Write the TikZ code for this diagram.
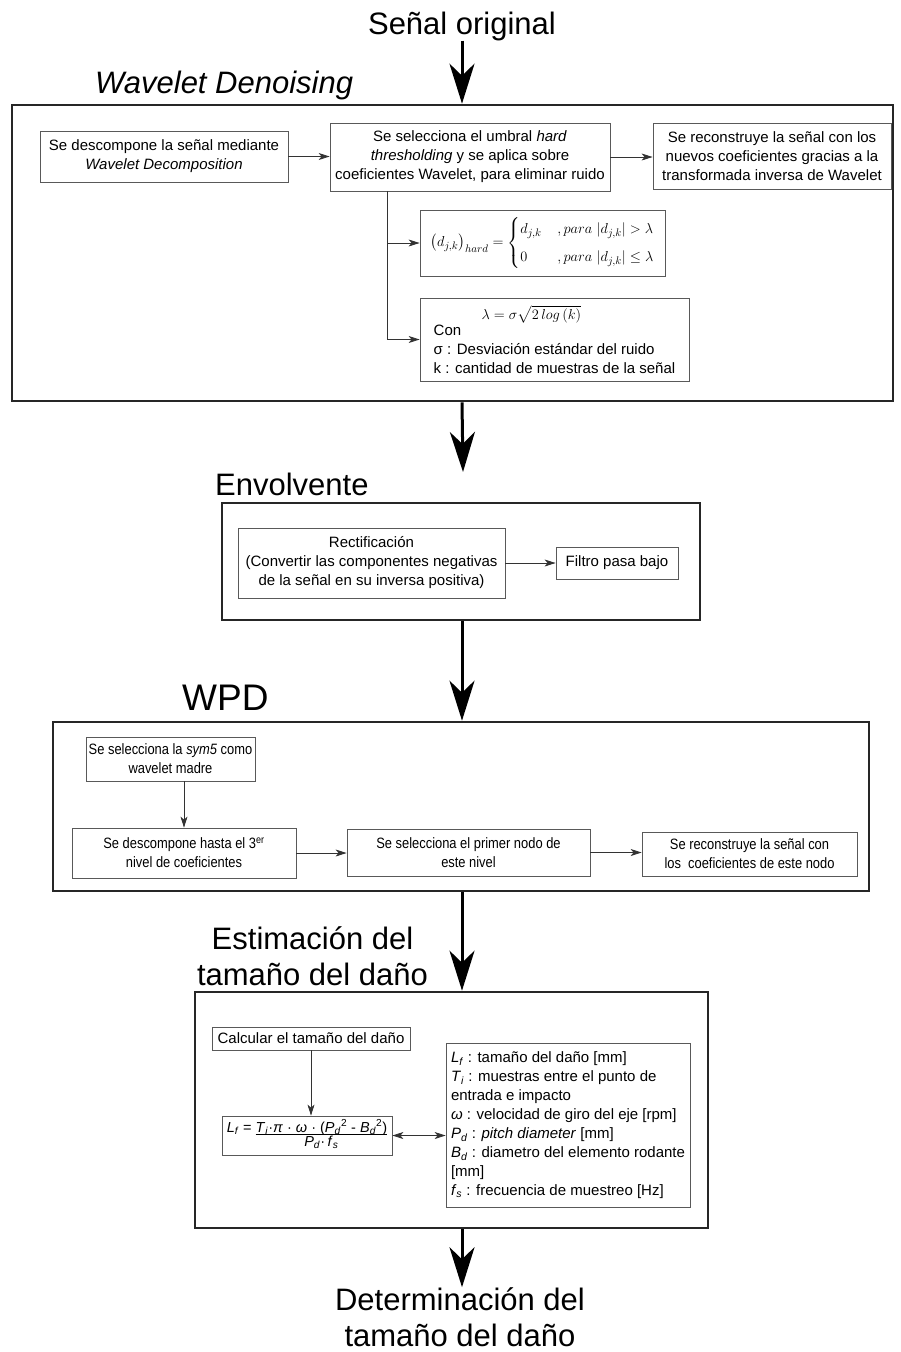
\documentclass[tikz,border=0pt]{standalone}
\usepackage{fontspec}
\usepackage{amsmath}
\setmainfont{Liberation Sans}
\newfontfamily\estrecha[FakeStretch=0.86]{Liberation Sans}
\usetikzlibrary{arrows.meta}
\newcommand{\subsup}[3]{\textit{#1}\textsubscript{\textit{#2}}\textsuperscript{#3}}
\begin{document}
\begin{tikzpicture}[
        x=1pt, y=-1pt,
        font=\fontsize{15}{19}\selectfont,
        caja/.style={draw=black!65, line width=0.8pt, align=center, inner sep=2pt},
        angosta/.style={font=\estrecha\fontsize{15}{19}\selectfont},
        bloque/.style={draw=black!85, line width=2.6pt, inner sep=0pt},
        titulo/.style={font=\fontsize{31}{36}\selectfont, align=center, inner sep=0pt},
        flecha/.style={line width=3pt, -{Stealth[length=40pt, width=25pt, inset=12pt]}},
        fina/.style={draw=black!80, line width=0.8pt, -{Stealth[length=11pt, width=7pt, inset=3pt]}},
        doble/.style={fina, {Stealth[length=11pt, width=7pt, inset=3pt]}-{Stealth[length=11pt, width=7pt, inset=3pt]}}
    ]
        \useasboundingbox (0,0) rectangle (900,1352);
        \node[titulo, anchor=base] (senal) at (462,34) {Señal original};
        \node[bloque, minimum width=881, minimum height=296] (wd) at (452.5,253) {};
        \node[titulo, font=\fontsize{31}{36}\selectfont\itshape, anchor=base west] (wdt) at (95,93) {Wavelet Denoising};
        \node[caja, minimum width=248, minimum height=51] (desc) at (164,156.5) {Se descompone la señal mediante\\\textit{Wavelet Decomposition}};
        \node[caja, minimum width=280, minimum height=68] (umbral) at (470,157) {Se selecciona el umbral \textit{hard}\\\textit{thresholding} y se aplica sobre\\coeficientes Wavelet, para eliminar ruido};
        \node[caja, minimum width=238, minimum height=66] (recons) at (772,156) {Se reconstruye la señal con los\\nuevos coeficientes gracias a la\\transformada inversa de Wavelet};
        \node[caja, minimum width=245, minimum height=66, font=\fontsize{15.5}{19}\selectfont] (hard) at (542.5,243) {$\left(d_{j,k}\right)_{hard}=\begin{cases} d_{j,k} & ,para\ \lvert d_{j,k}\rvert>\lambda\\[5pt] 0 & ,para\ \lvert d_{j,k}\rvert\le\lambda\end{cases}$};
        \node[caja, minimum width=269, minimum height=83, align=left] (lambda) at (554.5,339.5) {\hspace*{48pt}$\lambda=\sigma\sqrt{2\,log\,(k)}$\\[-3pt]Con\\σ : Desviación estándar del ruido\\k : cantidad de muestras de la señal};
        \coordinate (rama) at (387,191);
        \draw[fina] (desc.east) -- (desc.east -| umbral.west);
        \draw[fina] (umbral.east) -- (umbral.east -| recons.west);
        \draw[fina] (rama) |- (hard.west);
        \draw[fina] (rama) |- (lambda.west);
        \draw[flecha] (senal.south) -- (senal.south |- wd.north);
        \node[bloque, minimum width=478, minimum height=117] (env) at (461,561.5) {};
        \node[titulo, anchor=base west] (envt) at (215,495) {Envolvente};
        \node[caja, minimum width=267, minimum height=70] (rect) at (371.5,563) {Rectificación\\(Convertir las componentes negativas\\de la señal en su inversa positiva)};
        \node[caja, minimum width=122, minimum height=32] (filtro) at (617,563) {Filtro pasa bajo};
        \draw[fina] (rect) -- (filtro);
        \coordinate (p2) at (463,472);
        \draw[flecha] (wd.south -| senal.south) -- (p2);
        \node[bloque, minimum width=816, minimum height=169] (wpd) at (461,806.5) {};
        \node[titulo, font=\fontsize{37}{42}\selectfont, anchor=base west] (wpdt) at (182,710) {WPD};
        \node[caja, angosta, minimum width=169, minimum height=44] (sym) at (170.5,759) {Se selecciona la \textit{sym5} como\\wavelet madre};
        \node[caja, angosta, minimum width=224, minimum height=50] (hasta) at (184,853) {Se descompone hasta el 3\textsuperscript{er}\\nivel de coeficientes};
        \node[caja, angosta, minimum width=243, minimum height=47] (nodo) at (468.5,852.5) {Se selecciona el primer nodo de\\este nivel};
        \node[caja, angosta, minimum width=215, minimum height=44] (recwpd) at (749.5,854) {Se reconstruye la señal con\\los\ \ coeficientes de este nodo};
        \draw[fina] (sym.south -| hasta.north) -- (hasta.north);
        \draw[fina] (hasta.east) -- (hasta.east -| nodo.west);
        \draw[fina] (nodo.east) -- (nodo.east -| recwpd.west);
        \draw[flecha] (env.south -| senal.south) -- (senal.south |- wpd.north);
        \node[bloque, minimum width=513, minimum height=236] (est) at (451.5,1110) {};
        \node[titulo] (estt) at (312.5,956) {Estimación del\\tamaño del daño};
        \node[caja, minimum width=198, minimum height=23] (calc) at (311,1038.5) {Calcular el tamaño del daño};
        \node[caja, minimum width=170, minimum height=39, inner sep=1pt, font=\fontsize{14.5}{16}\selectfont] (lf) at (307,1135.5) {\textit{L}\textsubscript{\textit{f}} = \begin{tabular}[t]{@{}c@{}}\textit{T}\textsubscript{\textit{i}}·\textit{π} · \textit{ω} · (\subsup{P}{d}{2} - \subsup{B}{d}{2})\\[-3pt]\hline\rule{0pt}{12pt}\textit{P}\textsubscript{\textit{d}}·\,\textit{f}\textsubscript{\textit{s}}\end{tabular}};
        \node[caja, minimum width=244, minimum height=164, align=left] (vars) at (568,1125) {\textit{L}\textsubscript{\textit{f}} : tamaño del daño [mm]\\\textit{T}\textsubscript{\textit{i}} : muestras entre el punto de\\entrada e impacto\\\textit{ω} : velocidad de giro del eje [rpm]\\\textit{P}\textsubscript{\textit{d}} : \textit{pitch diameter} [mm]\\\textit{B}\textsubscript{\textit{d}} : diametro del elemento rodante\\{[mm]}\\\textit{f}\textsubscript{\textit{s}} : frecuencia de muestreo [Hz]};
        \draw[fina] (calc.south) -- (calc.south |- lf.north);
        \draw[doble] (lf.east) -- (lf.east -| vars.west);
        \draw[flecha] (wpd.south -| senal.south) -- (senal.south |- est.north);
        \node[titulo] (det) at (460,1317) {Determinación del\\tamaño del daño};
        \draw[flecha] (est.south -| senal.south) -- (senal.south |- det.north);
    \end{tikzpicture}
\end{document}
